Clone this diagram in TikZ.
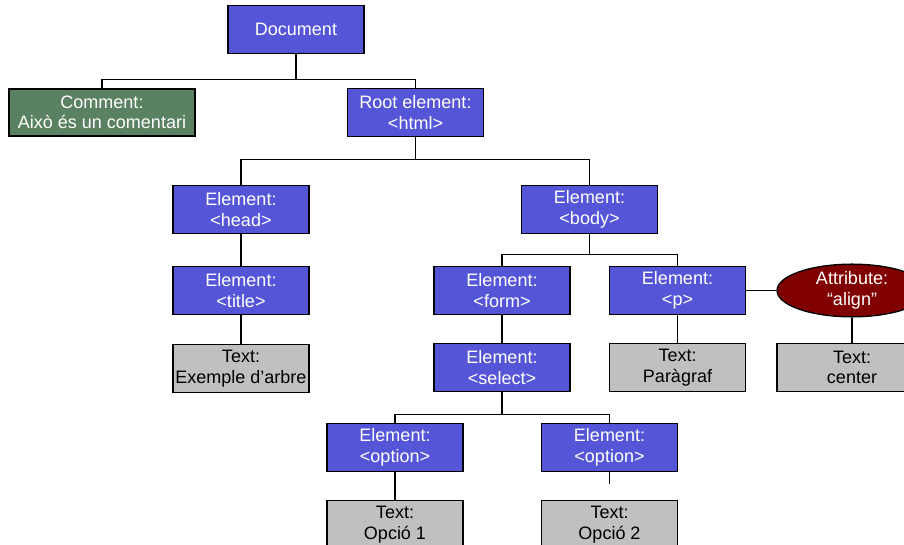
\documentclass[tikz,border=0pt]{standalone}
\usepackage{fontspec}
\setmainfont{Liberation Sans}
\usepackage{tikz}
\usetikzlibrary{shapes.geometric}

\definecolor{elemblue}{RGB}{85,85,216}
\definecolor{commgreen}{RGB}{90,130,98}
\definecolor{attrred}{RGB}{128,0,0}
\definecolor{textgrey}{RGB}{192,192,192}

\begin{document}
\begin{tikzpicture}[x=1pt,y=-1pt,
        every node/.style={font=\fontsize{18}{20.5}\selectfont,align=center,inner sep=0pt},
        elem/.style={draw=black,line width=1.3pt,fill=elemblue,text=white,
                     minimum width=136pt,minimum height=48pt},
        comm/.style={elem,fill=commgreen,minimum width=186pt,minimum height=47pt},
        txt/.style={elem,fill=textgrey,text=black},
        attr/.style={ellipse,draw=black,line width=1.3pt,fill=attrred,text=white,
                     minimum width=150pt,minimum height=47pt},
        link/.style={line width=1.1pt}]

      \useasboundingbox (0,0) rectangle (904,545);
      \clip (0,0) rectangle (904,545);

      % levels of the tree
      \node[elem]  (doc)     at (296,29.5)   {Document};
      \node[comm]  (comment) at (102,112.5)  {Comment:\\Això és un comentari};
      \node[elem]  (html)    at (415.5,112.5) {Root element:\\<html>};
      \node[elem]  (head)    at (241,209.5)  {Element:\\<head>};
      \node[elem]  (body)    at (589.5,209.5) {Element:\\<body>};
      \node[elem]  (title)   at (241,290.5)  {Element:\\<title>};
      \node[elem]  (form)    at (502,290.5)  {Element:\\<form>};
      \node[elem]  (p)       at (677.5,290.5) {Element:\\<p>};
      \node[attr]  (align)   at (852,290.5)  {Attribute:\\“align”};
      \node[txt]   (arbre)   at (241,368.5)  {Text:\\Exemple d’arbre};
      \node[elem]  (select)  at (502,367.5)  {Element:\\<select>};
      \node[txt]   (parag)   at (677.5,367.5) {Text:\\Paràgraf};
      \node[txt, minimum width=150pt] (center) at (852,367.5) {Text:\\center};
      \node[elem]  (opt1)    at (395,447.5)  {Element:\\<option>};
      \node[elem]  (opt2)    at (609.5,447.5) {Element:\\<option>};
      \node[txt]   (opcio1)  at (395,524.5)  {Text:\\Opció 1};
      \node[txt]   (opcio2)  at (609.5,524.5) {Text:\\Opció 2};
      \coordinate  (stub)    at (609.5,484);

      % connectors
      \draw[link] (doc.south) -- ++(0,25) -| (comment.north);
      \draw[link] (doc.south) -- ++(0,25) -| (html.north);
      \draw[link] (html.south) -- ++(0,22) -| (head.north);
      \draw[link] (html.south) -- ++(0,22) -| (body.north);
      \draw[link] (head) -- (title);
      \draw[link] (title) -- (arbre);
      \draw[link] (body.south) -- ++(0,20) -| (form.north);
      \draw[link] (body.south) -- ++(0,20) -| (p.north);
      \draw[link] (p) -- (align);
      \draw[link] (form) -- (select);
      \draw[link] (p) -- (parag);
      \draw[link] (align) -- (center);
      \draw[link] (select.south) -- ++(0,22) -| (opt1.north);
      \draw[link] (select.south) -- ++(0,22) -| (opt2.north);
      \draw[link] (opt1) -- (opcio1);
      \draw[link] (opt2) -- (stub);
\end{tikzpicture}
\end{document}
